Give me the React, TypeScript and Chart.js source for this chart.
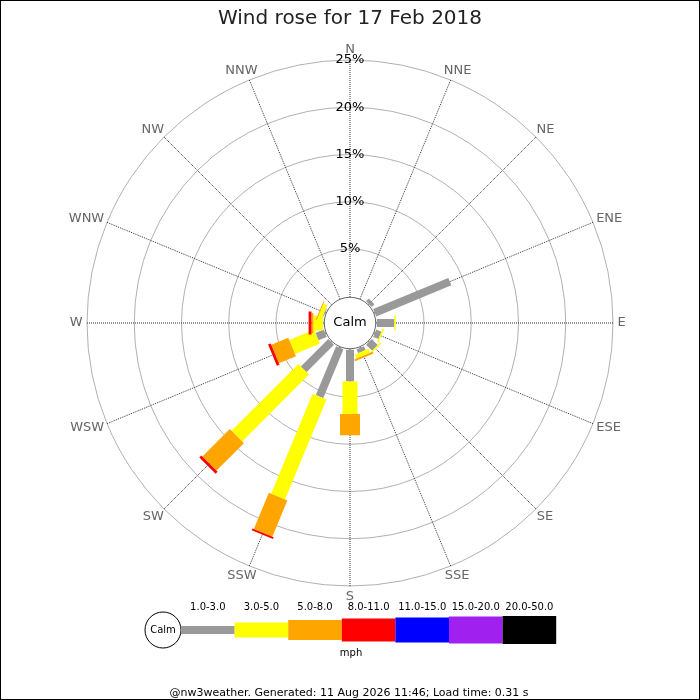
import React, { useEffect, useRef } from "react";
import { Chart, registerables } from "chart.js";

Chart.register(...registerables);

const FONT = "'DejaVu Sans', 'Liberation Sans', sans-serif";

const TITLE = "Wind rose for 17 Feb 2018";
const FOOTER = "@nw3weather. Generated: 11 Aug 2026 11:46; Load time: 0.31 s";
const UNIT = "mph";

const DIRECTIONS = ["N", "NNE", "NE", "ENE", "E", "ESE", "SE", "SSE", "S", "SSW", "SW", "WSW", "W", "WNW", "NW", "NNW"];
const BANDS = ["1.0-3.0", "3.0-5.0", "5.0-8.0", "8.0-11.0", "11.0-15.0", "15.0-20.0", "20.0-50.0"];

// percentage of time per direction for each speed band (mph)
const SPEED_1_3 = [0, 0, 0.4, 8.6, 1.85, 0.6, 0.9, 0.45, 3.35, 5.6, 4.1, 0.95, 0.05, 0.1, 0, 0];
const SPEED_3_5 = [0, 0, 0, 0, 0.15, 0.15, 0.15, 0.45, 3.45, 11.45, 10.0, 2.85, 1.0, 0.45, 0, 0];
const SPEED_5_8 = [0, 0, 0, 0, 0, 0, 0, 0.2, 2.25, 4.15, 4.1, 1.95, 0.2, 0.1, 0, 0];
const SPEED_8_11 = [0, 0, 0, 0, 0, 0, 0, 0, 0, 0.2, 0.3, 0.3, 0.3, 0, 0, 0];
const SPEED_11_15 = [0, 0, 0, 0, 0, 0, 0, 0, 0, 0, 0, 0, 0, 0, 0, 0];
const SPEED_15_20 = [0, 0, 0, 0, 0, 0, 0, 0, 0, 0, 0, 0, 0, 0, 0, 0];
const SPEED_20_50 = [0, 0, 0, 0, 0, 0, 0, 0, 0, 0, 0, 0, 0, 0, 0, 0];

const RADIAL_TICKS = [5, 10, 15, 20, 25];
const RADIAL_MAX = 25;
const RADIAL_MIN = -2.83; // room for the calm circle

const BAND_COLORS = ["#999999", "#ffff00", "#ffa500", "#ff0000", "#0000ff", "#a020f0", "#000000"];
const BAND_WIDTHS = [8, 15, 20, 23, 25, 27, 28];

const windRosePlugin = {
  id: "windRose",
  afterDatasetsDraw(chart: any) {
    const ctx: CanvasRenderingContext2D = chart.ctx;
    const scale = chart.scales.r;
    const cx = scale.xCenter;
    const cy = scale.yCenter;
    const calmR = scale.getDistanceFromCenterForValue(0);
    ctx.save();

    // radial tick labels
    ctx.fillStyle = "#000";
    ctx.font = `13px ${FONT}`;
    ctx.textAlign = "center";
    ctx.textBaseline = "middle";
    scale.ticks.forEach((t: any) => {
      const d = scale.getDistanceFromCenterForValue(t.value);
      ctx.fillText(t.label, cx, cy - d);
    });

    // calm circle
    ctx.beginPath();
    ctx.arc(cx, cy, calmR - 1, 0, Math.PI * 2);
    ctx.fillStyle = "#ffffff";
    ctx.fill();
    ctx.lineWidth = 1;
    ctx.strokeStyle = "#666666";
    ctx.stroke();

    // stacked bars
    ctx.lineCap = "butt";
    chart.data.labels.forEach((_: string, i: number) => {
      let cum = 0;
      chart.data.datasets.forEach((ds: any, k: number) => {
        const v = ds.data[i];
        if (!v) return;
        const r0 = scale.getDistanceFromCenterForValue(cum);
        const r1 = scale.getDistanceFromCenterForValue(cum + v);
        cum += v;
        const p0 = scale.getPointPosition(i, r0);
        const p1 = scale.getPointPosition(i, r1);
        ctx.strokeStyle = ds.borderColor;
        ctx.lineWidth = BAND_WIDTHS[k];
        ctx.beginPath();
        ctx.moveTo(p0.x, p0.y);
        ctx.lineTo(p1.x, p1.y);
        ctx.stroke();
      });
    });

    // calm label
    ctx.fillStyle = "#000";
    ctx.font = `13px ${FONT}`;
    ctx.fillText("Calm", cx, cy);

    // direction labels
    ctx.fillStyle = "#666666";
    chart.data.labels.forEach((lab: string, i: number) => {
      const th = scale.getIndexAngle(i);
      const p = scale.getPointPosition(i, scale.drawingArea + 4.5);
      const w = ctx.measureText(lab).width;
      const x = p.x + Math.sin(th) * w / 2;
      const y = p.y - Math.cos(th) * 6;
      ctx.fillText(lab, x, y);
    });

    // legend
    const lgY = 630;
    ctx.beginPath();
    ctx.arc(163, lgY, 18, 0, Math.PI * 2);
    ctx.fillStyle = "#fff";
    ctx.fill();
    ctx.strokeStyle = "#000";
    ctx.lineWidth = 1;
    ctx.stroke();
    ctx.fillStyle = "#000";
    ctx.font = `10px ${FONT}`;
    ctx.fillText("Calm", 163, lgY);
    const segW = 53.6;
    let x = 181;
    chart.data.datasets.forEach((ds: any, k: number) => {
      const h = BAND_WIDTHS[k];
      ctx.fillStyle = ds.borderColor;
      ctx.fillRect(x, lgY - h / 2, segW, h);
      ctx.fillStyle = "#000";
      ctx.fillText(ds.label, x + segW / 2, 607);
      x += segW;
    });
    ctx.fillText(UNIT, 351, 653);

    // footer
    ctx.font = `11px ${FONT}`;
    ctx.fillText(FOOTER, 349, 693);

    // border
    ctx.strokeStyle = "#000";
    ctx.lineWidth = 1;
    ctx.strokeRect(0.5, 0.5, chart.width - 1, chart.height - 1);
    ctx.restore();
  },
};

export default function App() {
  const ref = useRef<HTMLCanvasElement | null>(null);
  useEffect(() => {
    if (!ref.current) return;
    const series = [SPEED_1_3, SPEED_3_5, SPEED_5_8, SPEED_8_11, SPEED_11_15, SPEED_15_20, SPEED_20_50];
    const chart = new Chart(ref.current, {
      type: "radar",
      data: {
        labels: DIRECTIONS,
        datasets: series.map((d, k) => ({
          label: BANDS[k],
          data: d,
          borderColor: BAND_COLORS[k],
          backgroundColor: "transparent",
          showLine: false,
          fill: false,
          pointRadius: 0,
          pointHitRadius: 0,
        })),
      },
      options: {
        responsive: false,
        animation: false,
        events: [],
        layout: { padding: { left: 87, right: 87, top: 0, bottom: 114 } },
        plugins: {
          legend: { display: false },
          tooltip: { enabled: false },
          title: {
            display: true,
            text: TITLE,
            color: "#222",
            font: { size: 20, family: FONT, weight: "normal" },
            padding: { top: 7, bottom: 29 },
          },
        },
        scales: {
          r: {
            min: RADIAL_MIN,
            max: RADIAL_MAX,
            grid: { circular: true, color: "#b0b0b0", lineWidth: 1 },
            angleLines: { color: "#333", lineWidth: 1, borderDash: [1, 1] },
            pointLabels: { display: false },
            ticks: {
              display: false,
              callback: (v: any) => v + "%",
            },
            afterBuildTicks: (s: any) => {
              s.ticks = RADIAL_TICKS.map((v) => ({ value: v }));
            },
          },
        },
      } as any,
      plugins: [windRosePlugin],
    });
    return () => chart.destroy();
  }, []);
  return (
    <div style={{ position: "absolute", left: 0, top: 0, width: 700, height: 700, background: "#fff" }}>
      <canvas ref={ref} width={700} height={700} style={{ display: "block" }} />
    </div>
  );
}
